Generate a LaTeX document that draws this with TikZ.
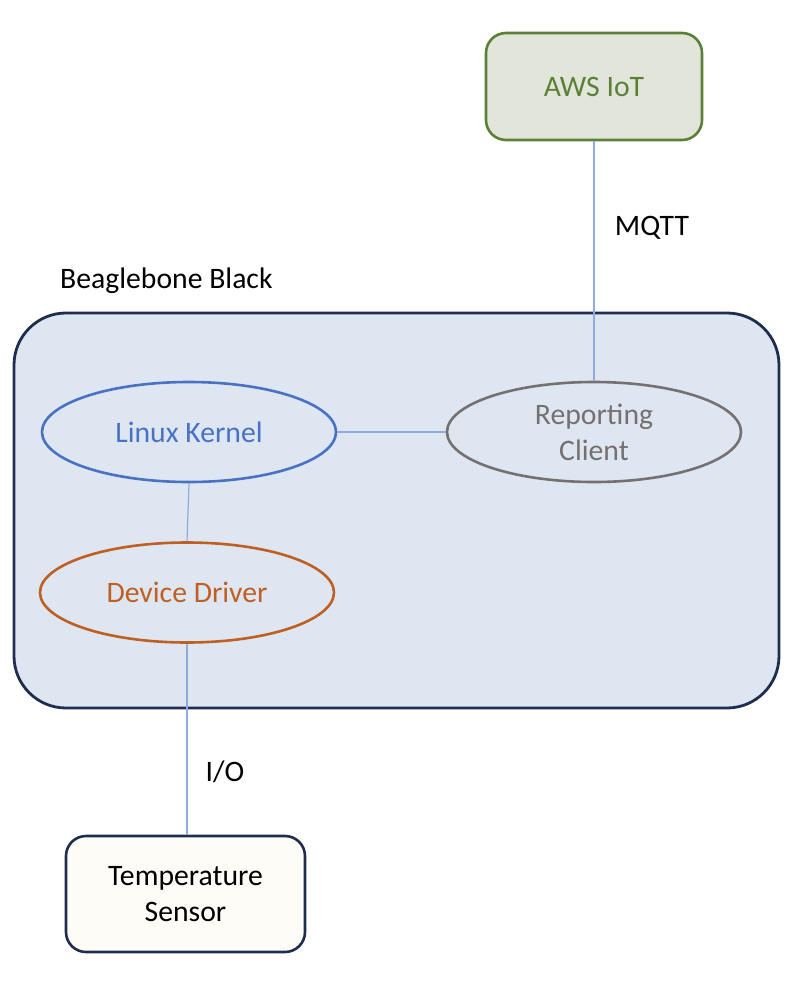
\documentclass[tikz,border=0pt]{standalone}
\usepackage{fontspec}
\setmainfont{Carlito}
\usetikzlibrary{shapes.geometric}
\definecolor{awsfill}{HTML}{E2E6DA}
\definecolor{awsline}{HTML}{5B8038}
\definecolor{bbfill}{HTML}{DEE6F2}
\definecolor{navy}{HTML}{1F2D4F}
\definecolor{kblue}{HTML}{4A72C4}
\definecolor{dorange}{HTML}{C05F22}
\definecolor{rgray}{HTML}{767171}
\definecolor{conn}{HTML}{8FAADC}
\definecolor{tsfill}{HTML}{FDFCF6}
\tikzset{
  x=1pt, y=-1pt,
  txt/.style={font=\fontsize{29.7}{36}\selectfont, align=center},
  oval/.style={ellipse, draw, line width=2.6pt, minimum width=294pt, minimum height=100pt, inner sep=0pt, txt},
  conline/.style={draw=conn, line width=1.2pt},
  lbl/.style={txt, text=black, inner sep=0pt}
}
\begin{document}
\begin{tikzpicture}
\useasboundingbox (0,0) rectangle (794,982);
% Beaglebone box
\node[draw=navy, fill=bbfill, line width=2.8pt, rounded corners=52pt,
  minimum width=765pt, minimum height=395pt, inner sep=0pt] (bb) at (396.5,510.5) {};
\node[lbl, anchor=west] (bbl) at (60,281) {Beaglebone Black};
% AWS IoT
\node[draw=awsline, fill=awsfill, line width=2.6pt, rounded corners=20pt,
  minimum width=216pt, minimum height=107pt, inner sep=0pt, txt, text=awsline] (aws) at (594,86.5) {AWS IoT};
% Ellipses
\node[oval, draw=kblue, text=kblue] (lk) at (189,432) {Linux Kernel};
\node[oval, draw=dorange, text=dorange] (dd) at (187,592.5) {Device Driver};
\node[oval, draw=rgray, text=rgray] (rc) at (594,432) {Reporting\\Client};
% Temperature sensor
\node[draw=navy, fill=tsfill, line width=2.6pt, rounded corners=20pt,
  minimum width=239pt, minimum height=116pt, inner sep=0pt, txt, text=black] (ts) at (185.5,894) {Temperature\\Sensor};
% connectors
\draw[conline] (aws.south) -- (rc.north);
\draw[conline] (lk.east) -- (rc.west);
\draw[conline] (lk.south) -- (dd.north);
\draw[conline] (dd.south) -- (ts.north -| dd.south);
% labels
\node[lbl] (mqtt) at (652,228) {MQTT};
\node[lbl] (io) at (225,772) {I/O};
\end{tikzpicture}
\end{document}
